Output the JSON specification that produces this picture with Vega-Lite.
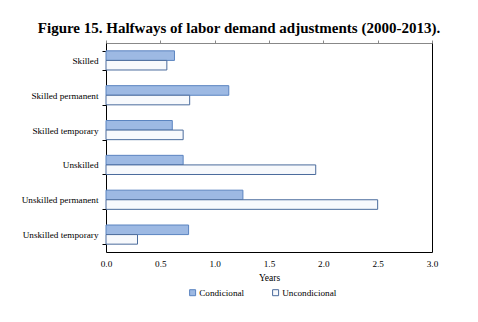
{
  "$schema": "https://vega.github.io/schema/vega-lite/v6.json",
  "autosize": "none",
  "width": 326,
  "height": 209,
  "padding": {"left": 106, "top": 43, "right": 46, "bottom": 70},
  "background": "white",
  "title": {
    "text": "Figure 15. Halfways of labor demand adjustments (2000-2013).",
    "font": "Liberation Serif",
    "fontSize": 15,
    "fontWeight": "bold",
    "color": "#000000",
    "anchor": "middle",
    "dx": -30,
    "offset": 3
  },
  "config": {
    "view": {"stroke": null},
    "font": "Liberation Serif"
  },
  "data": {
    "values": [
      {"group": "Skilled", "series": "Condicional", "value": 0.63},
      {"group": "Skilled", "series": "Uncondicional", "value": 0.56},
      {"group": "Skilled permanent", "series": "Condicional", "value": 1.13},
      {"group": "Skilled permanent", "series": "Uncondicional", "value": 0.77},
      {"group": "Skilled temporary", "series": "Condicional", "value": 0.61},
      {"group": "Skilled temporary", "series": "Uncondicional", "value": 0.71},
      {"group": "Unskilled", "series": "Condicional", "value": 0.71},
      {"group": "Unskilled", "series": "Uncondicional", "value": 1.93},
      {"group": "Unskilled permanent", "series": "Condicional", "value": 1.26},
      {"group": "Unskilled permanent", "series": "Uncondicional", "value": 2.5},
      {"group": "Unskilled temporary", "series": "Condicional", "value": 0.76},
      {"group": "Unskilled temporary", "series": "Uncondicional", "value": 0.29}
    ]
  },
  "layer": [
    {
      "mark": {"type": "bar", "strokeWidth": 1},
      "encoding": {
        "y": {
          "field": "group",
          "type": "nominal",
          "sort": ["Skilled", "Skilled permanent", "Skilled temporary", "Unskilled", "Unskilled permanent", "Unskilled temporary"],
          "scale": {"paddingInner": 0.45, "paddingOuter": 0.225},
          "axis": {
            "title": null,
            "tickBand": "extent",
            "tickSize": 4,
            "tickColor": "#000000",
            "domainColor": "#000000",
            "labelFont": "Liberation Serif",
            "labelColor": "#000000",
            "labelFontSize": 9.2,
            "labelPadding": 4
          }
        },
        "yOffset": {"field": "series", "type": "nominal", "sort": ["Condicional", "Uncondicional"]},
        "x": {
          "field": "value",
          "type": "quantitative",
          "scale": {"domain": [0, 3]},
          "axis": {
            "title": "Years",
            "titleFont": "Liberation Serif",
            "titleColor": "#000000",
            "titleFontSize": 9.5,
            "titleFontWeight": "normal",
            "titlePadding": 4,
            "values": [0, 0.5, 1, 1.5, 2, 2.5, 3],
            "format": ".1f",
            "tickSize": 0,
            "labelPadding": 7,
            "labelFlush": false,
            "labelFont": "Liberation Serif",
            "labelColor": "#000000",
            "labelFontSize": 9.2,
            "grid": false,
            "domainColor": "#000000"
          }
        },
        "fill": {
          "field": "series",
          "type": "nominal",
          "scale": {"domain": ["Condicional", "Uncondicional"], "range": ["#9db9e3", "#f7f9fc"]},
          "legend": {
            "title": null,
            "orient": "none",
            "direction": "horizontal",
            "legendX": 82,
            "legendY": 245,
            "symbolType": "square",
            "symbolSize": 36,
            "symbolStrokeWidth": 1,
            "labelFont": "Liberation Serif",
            "labelFontSize": 9.2,
            "labelColor": "#000000",
            "labelOffset": 2,
            "columnPadding": 25
          }
        },
        "stroke": {
          "field": "series",
          "type": "nominal",
          "scale": {"domain": ["Condicional", "Uncondicional"], "range": ["#5b84c0", "#4a6b9c"]},
          "legend": null
        }
      }
    },
    {
      "mark": {"type": "rule", "opacity": 0},
      "encoding": {
        "x": {
          "field": "value",
          "type": "quantitative",
          "axis": {
            "orient": "top",
            "title": null,
            "labels": false,
            "values": [0, 0.5, 1, 1.5, 2, 2.5, 3],
            "tickSize": 3,
            "tickColor": "#888888",
            "domainColor": "#888888",
            "grid": false
          }
        },
        "y": {
          "field": "group",
          "type": "nominal",
          "axis": {
            "orient": "right",
            "title": null,
            "labels": false,
            "ticks": false,
            "domainColor": "#000000"
          }
        }
      }
    }
  ],
  "resolve": {"axis": {"x": "independent", "y": "independent"}}
}
